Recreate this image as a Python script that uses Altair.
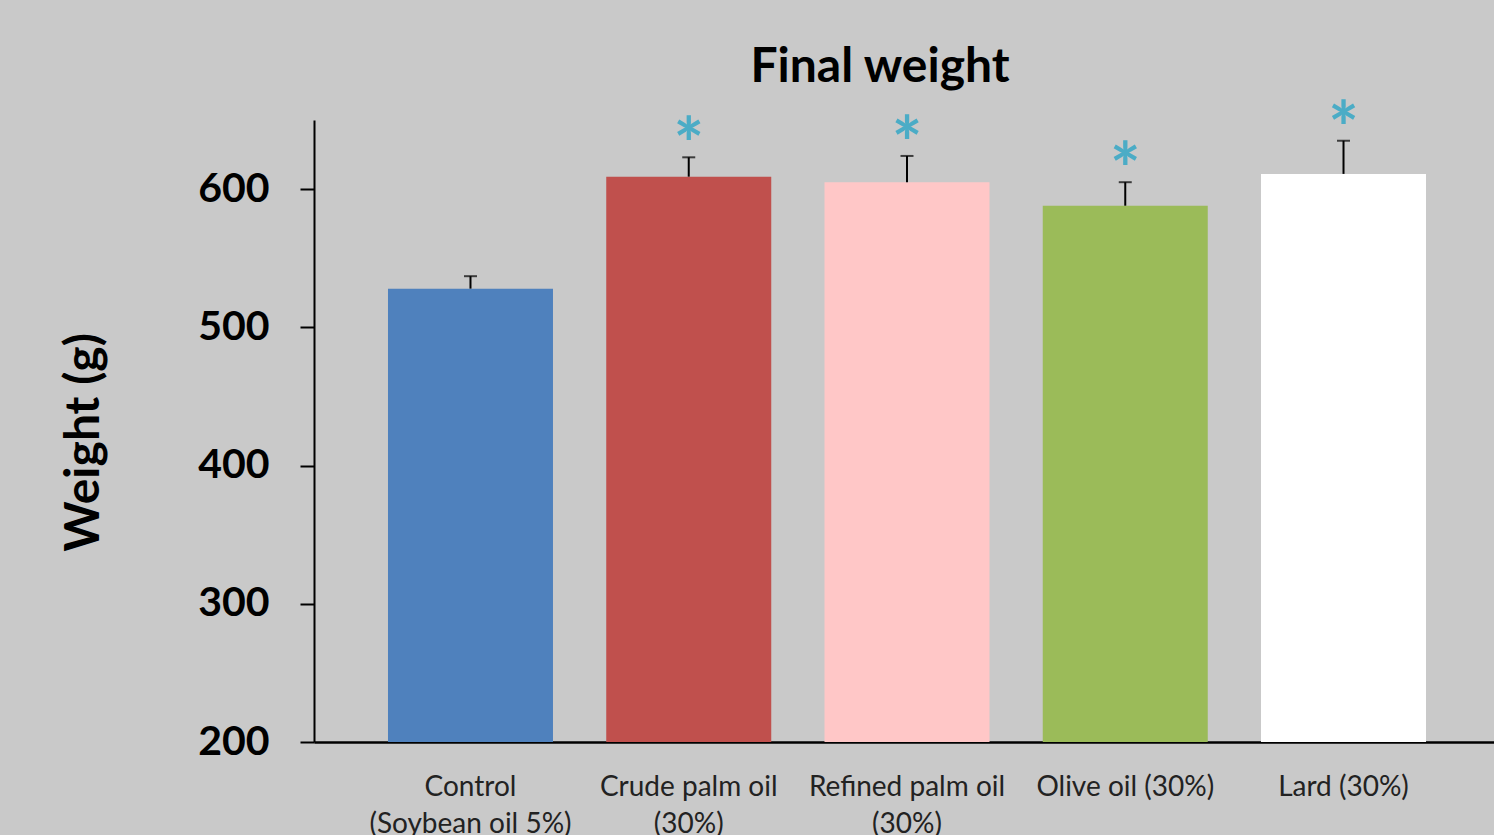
import altair as alt
import pandas as pd

categories = ["Control|(Soybean oil 5%)", "Crude palm oil|(30%)", "Refined palm oil|(30%)",
              "Olive oil (30%)", "Lard (30%)"]
means = [528, 609, 605, 588, 611]
errors = [9, 14, 19, 17, 24]
colors = ["#4F81BD", "#C0504D", "#FFC7C7", "#9BBB59", "#FFFFFF"]
stars = ["", "*", "*", "*", "*"]

df = pd.DataFrame({
    "cat": categories,
    "mean": means,
    "err": errors,
    "color": colors,
    "star": stars,
})
df["top"] = df["mean"] + df["err"]
df["base"] = 200

FONT = "Lato"

x = alt.X("cat:N", sort=categories,
          scale=alt.Scale(paddingInner=0.244, paddingOuter=0.339, range=[0, 1186]),
          axis=alt.Axis(title=None, labelAngle=0, ticks=False, domainColor="black",
                        domainWidth=2.5, labelFont=FONT, labelFontSize=28, labelLimit=0,
                        labelColor="#222222", labelPadding=31, labelLineHeight=37,
                        labelExpr="split(datum.label, '|')", labelBaseline="top"))
yscale = alt.Scale(domain=[200, 650], zero=False, nice=False)

bars = alt.Chart(df).mark_bar(stroke=None).encode(
    x=x,
    y=alt.Y("mean:Q", scale=yscale,
            axis=alt.Axis(title="Weight (g)", values=[200, 300, 400, 500, 600], grid=False,
                          domainColor="black", domainWidth=2, tickColor="black", tickWidth=2,
                          tickSize=14, labelFont=FONT, labelFontSize=41, labelFontWeight="bold",
                          labelColor="black", labelPadding=31, titleFont=FONT, titleFontSize=48,
                          titleFontWeight="bold", titleColor="black", titleX=-230, titleY=322,
                          titleAngle=-90, titleAlign="center", titleBaseline="middle")),
    y2="base:Q",
    color=alt.Color("color:N", scale=None, legend=None),
)

rule = alt.Chart(df).mark_rule(color="black", strokeWidth=2).encode(
    x=alt.X("cat:N", sort=categories),
    y="mean:Q",
    y2="top:Q",
)

cap = alt.Chart(df).mark_tick(color="black", thickness=2, size=13).encode(
    x=alt.X("cat:N", sort=categories),
    y="top:Q",
)

star = alt.Chart(df).mark_text(color="#4BACC6", fontSize=72, font=FONT, fontWeight="bold",
                               baseline="alphabetic", dy=14).encode(
    x=alt.X("cat:N", sort=categories),
    y="top:Q",
    text="star:N",
)

chart = alt.layer(bars, rule, cap, star).properties(
    width=1180, height=622,
    title=alt.TitleParams("Final weight", font=FONT, fontSize=48, fontWeight="bold",
                          color="black", anchor="middle", dx=-24, offset=5),
    autosize=alt.AutoSizeParams(type="none"),
    padding={"left": 314, "top": 120, "right": 0, "bottom": 93},
    background="#c9c9c9",
).configure_view(stroke=None)

chart.save("out.html", embed_options={"renderer": "svg", "actions": False})
